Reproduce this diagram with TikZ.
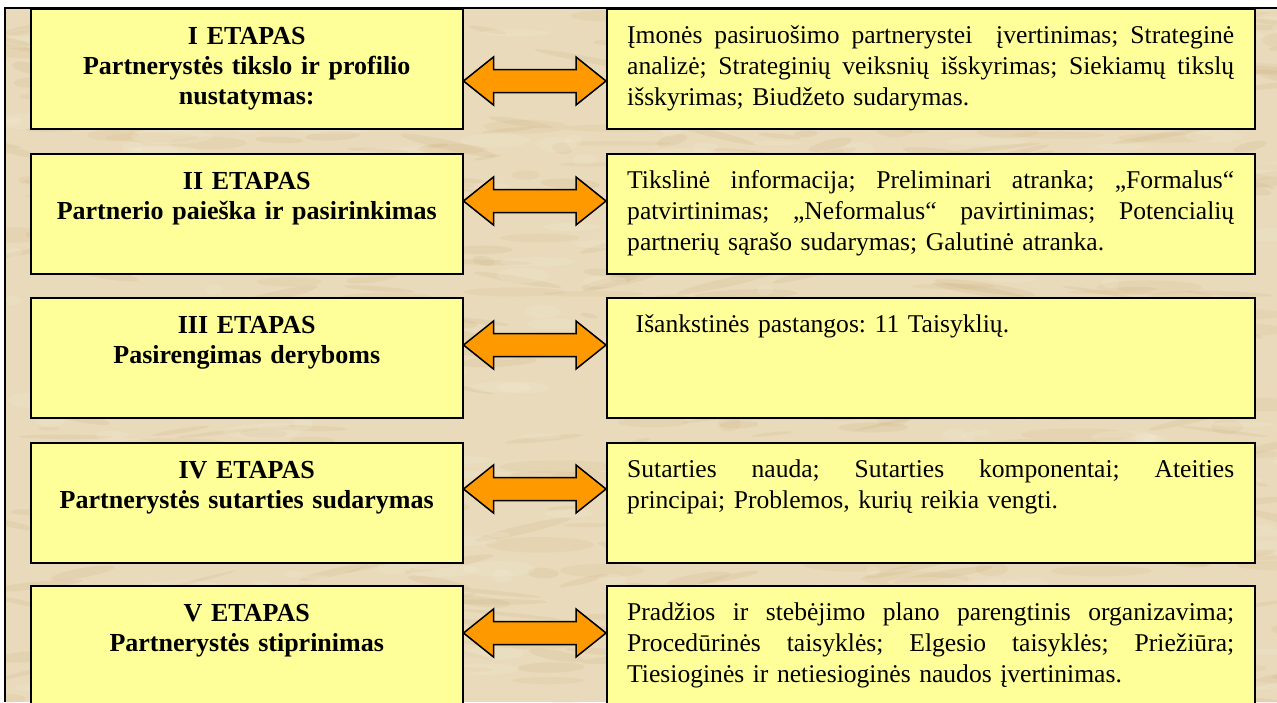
\documentclass[tikz,border=0pt]{standalone}
\usepackage{fontspec}
\setmainfont{Liberation Serif}
\usetikzlibrary{calc}

\definecolor{parch}{RGB}{232,218,186}
\definecolor{parchdark}{RGB}{196,166,112}
\definecolor{parchred}{RGB}{214,170,120}
\definecolor{parchlight}{RGB}{245,237,216}
\definecolor{boxyellow}{RGB}{255,255,153}
\definecolor{arroworange}{RGB}{255,153,0}

% a fully justified line of the description text
\newcommand{\jl}[1]{{\spaceskip=0.25em plus 3em minus 0.05em\xspaceskip=\spaceskip
  \makebox[607pt][s]{#1}}}

\tikzset{
  stagebox/.style={draw=black, line width=1.5pt, fill=boxyellow,
    minimum width=432pt, minimum height=120pt, anchor=north west, inner sep=0pt},
  infobox/.style={draw=black, line width=1.5pt, fill=boxyellow,
    minimum width=648pt, minimum height=120pt, anchor=north west, inner sep=0pt},
  stagetext/.style={text width=432pt, align=center, inner sep=0pt, anchor=base,
    font=\fontsize{26}{30}\selectfont\bfseries},
  infotext/.style={text width=607pt, align=left, inner sep=0pt, anchor=base west,
    font=\fontsize{25.6}{31}\selectfont\frenchspacing},
  linkarrow/.style={draw=black, line width=1.5pt, fill=arroworange, line join=miter},
}

\begin{document}
\begin{tikzpicture}[x=1pt, y=-1pt]
  \useasboundingbox (0,0) rectangle (1277,702);
  \clip (0,0) rectangle (1277,702);
  \fill[white] (0,0) rectangle (1277,702);

  % parchment background with mottled streaks
  \begin{scope}
    \clip (5,8) rectangle (1277,702);
    \fill[parch] (5,8) rectangle (1277,702);
    \pgfmathsetseed{17}
    \foreach \i in {1,...,420}{
      \pgfmathsetmacro\px{rnd*1290}
      \pgfmathsetmacro\py{rnd*710}
      \pgfmathsetmacro\pw{8+rnd*45}
      \pgfmathsetmacro\ph{1.5+rnd*4}
      \pgfmathsetmacro\pr{rnd*30-15}
      \fill[parchdark, opacity=0.14, rotate around={\pr:(\px,\py)}]
        (\px,\py) ellipse (\pw pt and \ph pt);
    }
    \foreach \i in {1,...,200}{
      \pgfmathsetmacro\px{rnd*1290}
      \pgfmathsetmacro\py{rnd*710}
      \pgfmathsetmacro\pw{10+rnd*50}
      \pgfmathsetmacro\ph{2+rnd*6}
      \fill[parchred, opacity=0.12] (\px,\py) ellipse (\pw pt and \ph pt);
    }
    \foreach \i in {1,...,260}{
      \pgfmathsetmacro\px{rnd*1290}
      \pgfmathsetmacro\py{rnd*710}
      \pgfmathsetmacro\pw{6+rnd*35}
      \pgfmathsetmacro\ph{2+rnd*6}
      \fill[parchlight, opacity=0.22] (\px,\py) ellipse (\pw pt and \ph pt);
    }
  \end{scope}
  \draw[line width=1.5pt] (5,702) -- (5,8) -- (1277,8);

  % stage boxes (left) and description boxes (right)
  \node[stagebox] (L1) at (30,8) {};
  \node[stagebox] (L2) at (30,153) {};
  \node[stagebox] (L3) at (30,297) {};
  \node[stagebox] (L4) at (30,442) {};
  \node[stagebox] (L5) at (30,585) {};

  \node[infobox] (R1) at (606,8) {};
  \node[infobox] (R2) at (606,153) {};
  \node[infobox] (R3) at (606,297) {};
  \node[infobox] (R4) at (606,442) {};
  \node[infobox] (R5) at (606,585) {};

  % stage titles
  \node[stagetext] (T1) at ($(L1.north)+(0,36)$) {I ETAPAS\\Partnerystės tikslo ir profilio\\nustatymas:};
  \node[stagetext] (T2) at ($(L2.north)+(0,36)$) {II ETAPAS\\Partnerio paieška ir pasirinkimas};
  \node[stagetext] (T3) at ($(L3.north)+(0,36)$) {III ETAPAS\\Pasirengimas deryboms};
  \node[stagetext] (T4) at ($(L4.north)+(0,36)$) {IV ETAPAS\\Partnerystės sutarties sudarymas};
  \node[stagetext] (T5) at ($(L5.north)+(0,36)$) {V ETAPAS\\Partnerystės stiprinimas};

  % descriptions
  \node[infotext] (D1) at ($(R1.north west)+(21,35)$) {%
    \jl{Įmonės pasiruošimo partnerystei\ \ įvertinimas; Strateginė}\\
    \jl{analizė; Strateginių veiksnių išskyrimas; Siekiamų tikslų}\\
    išskyrimas; Biudžeto sudarymas.};
  \node[infotext] (D2) at ($(R2.north west)+(21,35)$) {%
    \jl{Tikslinė informacija; Preliminari atranka; „Formalus“}\\
    \jl{patvirtinimas; „Neformalus“ pavirtinimas; Potencialių}\\
    partnerių sąrašo sudarymas; Galutinė atranka.};
  \node[infotext] (D3) at ($(R3.north west)+(21,35)$) {\ Išankstinės pastangos: 11 Taisyklių.};
  \node[infotext] (D4) at ($(R4.north west)+(21,35)$) {%
    \jl{Sutarties nauda; Sutarties komponentai; Ateities}\\
    principai; Problemos, kurių reikia vengti.};
  \node[infotext] (D5) at ($(R5.north west)+(21,35)$) {%
    \jl{Pradžios ir stebėjimo plano parengtinis organizavima;}\\
    \jl{Procedūrinės taisyklės; Elgesio taisyklės; Priežiūra;}\\
    Tiesioginės ir netiesioginės naudos įvertinimas.};

  % double-headed links between each stage and its description
  \coordinate (a1) at ($(L1.north east)+(0,73)$);
  \coordinate (b1) at ($(R1.north west)+(0,73)$);
  \coordinate (a2) at ($(L2.north east)+(0,48)$);
  \coordinate (b2) at ($(R2.north west)+(0,48)$);
  \coordinate (a3) at ($(L3.north east)+(0,48)$);
  \coordinate (b3) at ($(R3.north west)+(0,48)$);
  \coordinate (a4) at ($(L4.north east)+(0,47)$);
  \coordinate (b4) at ($(R4.north west)+(0,47)$);
  \coordinate (a5) at ($(L5.north east)+(0,48)$);
  \coordinate (b5) at ($(R5.north west)+(0,48)$);
  \foreach \k in {1,...,5}{
    \draw[linkarrow] (a\k) -- ++(30,-24) -- ++(0,12.5)
      -- ($(b\k)+(-30,-11.5)$) -- ++(0,-12.5) -- (b\k)
      -- ++(-30,24) -- ++(0,-12.5)
      -- ($(a\k)+(30,11.5)$) -- ++(0,12.5) -- cycle;
  }
\end{tikzpicture}
\end{document}
